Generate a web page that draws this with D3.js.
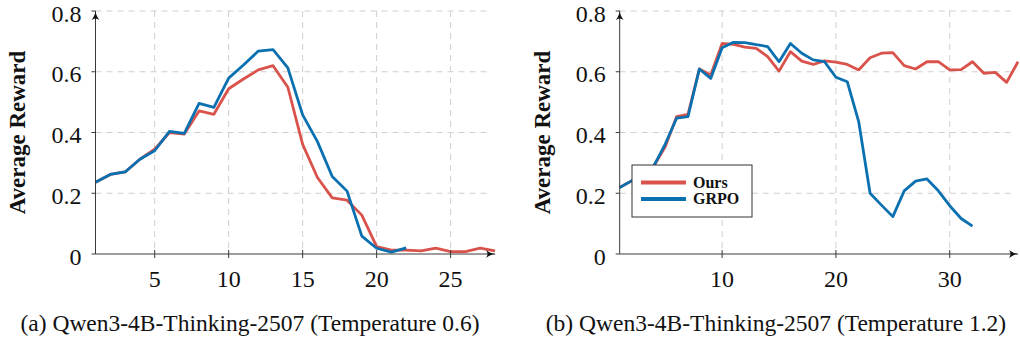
<!DOCTYPE html>
<html>
<head>
<meta charset="utf-8">
<script src="https://cdn.jsdelivr.net/npm/d3@7"></script>
<style>
  html, body { margin: 0; padding: 0; background: #fff; }
  svg { display: block; }
  text { font-family: "Liberation Serif", "Times New Roman", Times, serif; fill: #111; }
</style>
</head>
<body>
<svg id="chart" width="1020" height="341"></svg>
<script>
// panel (a): temperature 0.6
const leftOurs = [0.236, 0.262, 0.27, 0.312, 0.345, 0.4, 0.395, 0.471, 0.46, 0.544,
  0.576, 0.606, 0.62, 0.549, 0.361, 0.252, 0.185, 0.177, 0.128, 0.024,
  0.013, 0.013, 0.01, 0.019, 0.008, 0.008, 0.019, 0.01];
const leftGrpo = [0.236, 0.262, 0.27, 0.312, 0.34, 0.404, 0.397, 0.496, 0.483, 0.579,
  0.622, 0.668, 0.673, 0.613, 0.458, 0.37, 0.255, 0.207, 0.059, 0.019,
  0.006, 0.02];
// panel (b): temperature 1.2
const rightOurs = [0.219, 0.24, 0.262, 0.29, 0.353, 0.452, 0.46, 0.609, 0.589, 0.693,
  0.69, 0.681, 0.677, 0.65, 0.602, 0.666, 0.635, 0.624, 0.636, 0.632,
  0.624, 0.606, 0.646, 0.661, 0.663, 0.62, 0.609, 0.633, 0.633, 0.606,
  0.607, 0.633, 0.595, 0.598, 0.565, 0.633];
const rightGrpo = [0.219, 0.24, 0.262, 0.29, 0.362, 0.447, 0.452, 0.609, 0.578, 0.679,
  0.697, 0.696, 0.689, 0.683, 0.633, 0.693, 0.661, 0.639, 0.633, 0.582,
  0.567, 0.436, 0.2, 0.161, 0.123, 0.208, 0.24, 0.247, 0.208, 0.159,
  0.117, 0.092];

const yTicks = [0, 0.2, 0.4, 0.6, 0.8];
const leftXTicks = [5, 10, 15, 20, 25];
const rightXTicks = [10, 20, 30];
const seriesNames = ["Ours", "GRPO"];
const captions = ["(a) Qwen3-4B-Thinking-2507 (Temperature 0.6)",
  "(b) Qwen3-4B-Thinking-2507 (Temperature 1.2)"];

const RED = "#d9534c";
const BLUE = "#0a70b0";
const AXIS = "#3a3a3a";
const GRID = "#cfcfcf";

const svg = d3.select("#chart");
const defs = svg.append("defs");
defs.append("marker")
  .attr("id", "arrow")
  .attr("viewBox", "0 0 10 10")
  .attr("refX", 9).attr("refY", 5)
  .attr("markerWidth", 10).attr("markerHeight", 10)
  .attr("markerUnits", "userSpaceOnUse")
  .attr("orient", "auto")
  .append("path")
  .attr("d", "M0,1 Q5,5 10,5 Q5,5 0,9 Q3,5 0,1Z")
  .attr("fill", "#111");

function drawPanel(cfg) {
  const x = d3.scaleLinear().domain(cfg.xDomain).range(cfg.xRange);
  const y = d3.scaleLinear().domain([0, 0.8]).range([254, 11]);
  const g = svg.append("g");

  // grid
  g.selectAll(".hgrid").data(yTicks.filter(d => d > 0)).enter()
    .append("line")
    .attr("x1", cfg.xRange[0]).attr("x2", cfg.xRange[1] - 4)
    .attr("y1", d => y(d)).attr("y2", d => y(d))
    .attr("stroke", GRID).attr("stroke-width", 1)
    .attr("stroke-dasharray", "6,5");
  g.selectAll(".vgrid").data(cfg.xTicks).enter()
    .append("line")
    .attr("x1", d => x(d)).attr("x2", d => x(d))
    .attr("y1", y(0.8)).attr("y2", y(0))
    .attr("stroke", GRID).attr("stroke-width", 1)
    .attr("stroke-dasharray", "6,5");

  // lines
  const line = d3.line().x((d, i) => x(i + 1)).y(d => y(d));
  [[cfg.ours, RED], [cfg.grpo, BLUE]].forEach(([vals, col]) => {
    g.append("path")
      .datum(vals)
      .attr("d", line)
      .attr("fill", "none")
      .attr("stroke", col)
      .attr("stroke-width", 2.8)
      .attr("stroke-linejoin", "round");
  });

  // axes
  g.append("line")
    .attr("x1", cfg.xRange[0]).attr("x2", cfg.xRange[1])
    .attr("y1", y(0)).attr("y2", y(0))
    .attr("stroke", AXIS).attr("stroke-width", 1)
    .attr("marker-end", "url(#arrow)");
  g.append("line")
    .attr("x1", cfg.xRange[0]).attr("x2", cfg.xRange[0])
    .attr("y1", y(0)).attr("y2", y(0.8))
    .attr("stroke", AXIS).attr("stroke-width", 1)
    .attr("marker-end", "url(#arrow)");

  // tick marks
  g.selectAll(".ytick").data(yTicks).enter()
    .append("line")
    .attr("x1", cfg.xRange[0] - 4).attr("x2", cfg.xRange[0])
    .attr("y1", d => y(d)).attr("y2", d => y(d))
    .attr("stroke", AXIS).attr("stroke-width", 1);
  g.selectAll(".xtick").data(cfg.xTicks).enter()
    .append("line")
    .attr("x1", d => x(d)).attr("x2", d => x(d))
    .attr("y1", y(0) - 4).attr("y2", y(0) + 4)
    .attr("stroke", AXIS).attr("stroke-width", 1);

  // tick labels
  g.selectAll(".ylab").data(yTicks).enter()
    .append("text")
    .attr("x", cfg.xRange[0] - 14)
    .attr("y", d => y(d))
    .attr("dy", "0.44em")
    .attr("text-anchor", "end")
    .attr("font-size", 24)
    .text(d => d === 0 ? "0" : d3.format(".1f")(d));
  g.selectAll(".xlab").data(cfg.xTicks).enter()
    .append("text")
    .attr("x", d => x(d))
    .attr("y", 287)
    .attr("text-anchor", "middle")
    .attr("font-size", 24)
    .text(d => d);

  // y label
  g.append("text")
    .attr("transform", `translate(${cfg.yLabelX},${(y(0) + y(0.8)) / 2}) rotate(-90)`)
    .attr("text-anchor", "middle")
    .attr("dominant-baseline", "central")
    .attr("font-size", 23)
    .attr("font-weight", "bold")
    .text("Average Reward");

  // caption
  svg.append("text")
    .attr("x", cfg.capX)
    .attr("y", 331)
    .attr("text-anchor", "middle")
    .attr("font-size", 23.5)
    .text(cfg.caption);

  return { x, y, g };
}

drawPanel({
  xDomain: [1, 28], xRange: [95.5, 495], xTicks: leftXTicks,
  ours: leftOurs, grpo: leftGrpo, yLabelX: 17, capX: 250, caption: captions[0]
});
drawPanel({
  xDomain: [1, 36], xRange: [619.7, 1018], xTicks: rightXTicks,
  ours: rightOurs, grpo: rightGrpo, yLabelX: 542, capX: 776, caption: captions[1]
});

// legend
const lg = svg.append("g").attr("transform", "translate(632,165)");
lg.append("rect")
  .attr("width", 120).attr("height", 52)
  .attr("fill", "#fff").attr("stroke", "#333").attr("stroke-width", 1);
seriesNames.forEach((name, i) => {
  const yy = 17.5 + i * 16.5;
  lg.append("line")
    .attr("x1", 9).attr("x2", 54)
    .attr("y1", yy).attr("y2", yy)
    .attr("stroke", i === 0 ? RED : BLUE)
    .attr("stroke-width", 4);
  lg.append("text")
    .attr("x", 61).attr("y", yy + 5)
    .attr("font-size", 16)
    .attr("font-weight", "bold")
    .text(name);
});
</script>
</body>
</html>
